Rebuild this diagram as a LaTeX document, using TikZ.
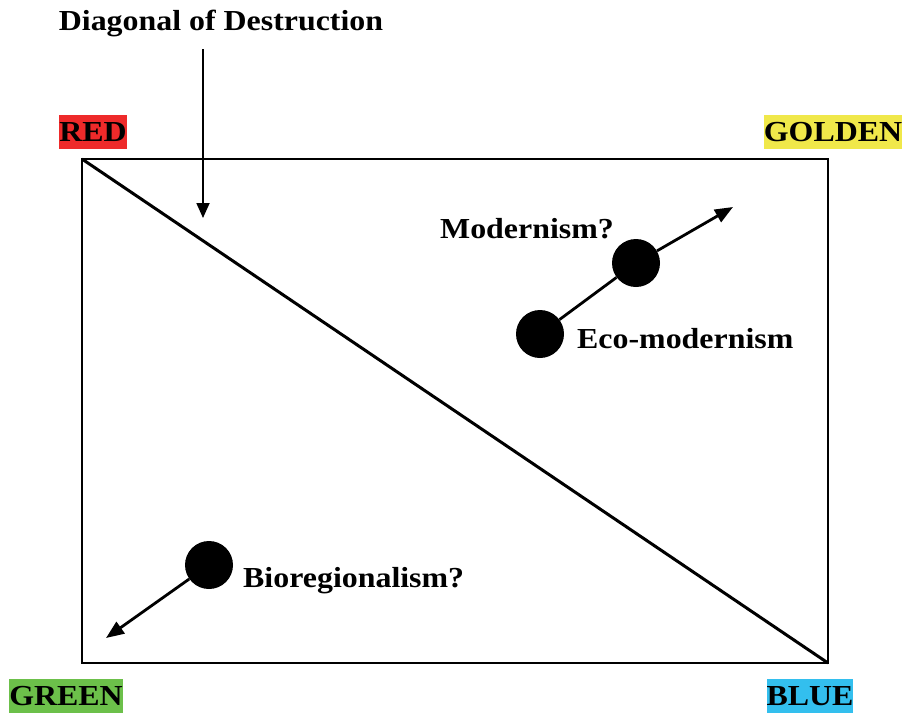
\documentclass[tikz,border=0pt]{standalone}
\usepackage{fontspec}
\setmainfont{Liberation Serif}[FakeStretch=1.1]
\usetikzlibrary{arrows.meta}
\definecolor{redlbl}{HTML}{EE2A2A}
\definecolor{goldlbl}{HTML}{F0E84A}
\definecolor{greenlbl}{HTML}{6CC04A}
\definecolor{bluelbl}{HTML}{33BFEE}
\tikzset{
  corner/.style={font=\fontsize{29}{31}\selectfont\bfseries, inner sep=0pt, text depth=0pt, minimum height=34pt},
  lbl/.style={font=\fontsize{29}{31}\selectfont\bfseries, inner sep=0pt},
  dot/.style={circle, fill=black, minimum size=48pt, inner sep=0pt},
  pointer/.style={line width=2.8pt, -{Triangle[length=18pt,width=14pt]}},
}
\begin{document}
\begin{tikzpicture}[x=1pt,y=-1pt]
\useasboundingbox (0,0) rectangle (905,713);
% frame and the diagonal
\coordinate (tl) at (82,159);
\coordinate (br) at (828,663);
\draw[line width=1.4pt] (tl) rectangle (br);
\draw[line width=3pt] (tl) -- (br);
% corner labels
\node[corner, fill=redlbl, minimum width=68pt] (red) at (93,132) {RED};
\node[corner, fill=goldlbl, minimum width=134pt] (golden) at (833,132) {GOLDEN};
\node[corner, fill=greenlbl, minimum width=113pt] (green) at (66,696) {GREEN};
\node[corner, fill=bluelbl, minimum width=86pt] (blue) at (810,696) {BLUE};
% title with its pointer
\node[lbl] (title) at (221,23) {Diagonal of Destruction};
\coordinate (diagpt) at (203,218);
\draw[line width=1.8pt, -{Triangle[length=15pt,width=13pt]}] (203,49) -- (diagpt);
% upper right positions
\node[dot] (eco) at (540,334) {};
\node[dot] (mod) at (636,263) {};
\coordinate (modtip) at (733,207);
\draw[line width=2.8pt] (eco) -- (mod);
\draw[pointer] (mod) -- (modtip);
\node[lbl, anchor=east] (modlbl) at (614,229) {Modernism?};
\node[lbl, anchor=west] (ecolbl) at (577,339) {Eco-modernism};
% lower left position
\node[dot] (bio) at (209,565) {};
\coordinate (biotip) at (106,638);
\draw[pointer] (bio) -- (biotip);
\node[lbl, anchor=west] (biolbl) at (243,581) {Bioregionalism?};
\end{tikzpicture}
\end{document}
